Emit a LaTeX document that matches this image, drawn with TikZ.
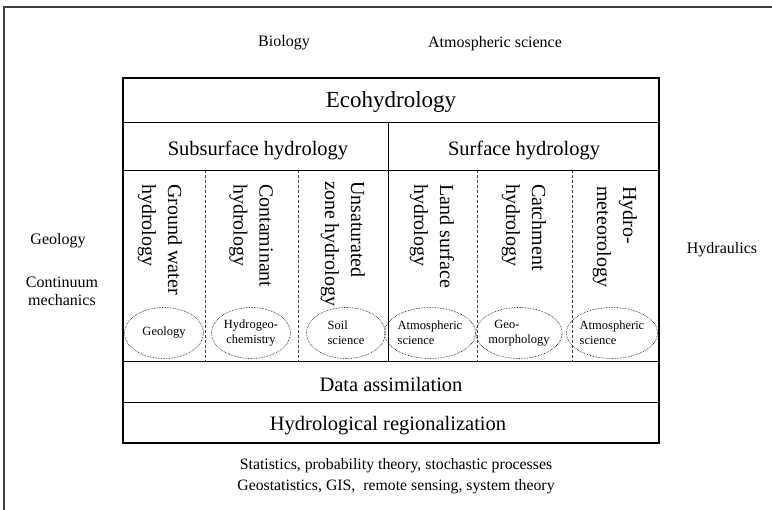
\documentclass[tikz,border=0pt]{standalone}
\usepackage{fontspec}
\setmainfont{Liberation Serif}
\usetikzlibrary{shapes.geometric}

\begin{document}
\begin{tikzpicture}[x=1pt, y=-1pt,
    frame/.style={line width=1.6pt, black!75},
    rule/.style={line width=0.9pt},
    split/.style={line width=0.6pt, black!75, dash pattern=on 3pt off 2pt},
    rowtext/.style={font=\fontsize{20.5}{24}\selectfont},
    sidetext/.style={font=\fontsize{16}{19}\selectfont, align=center},
    coltext/.style={font=\fontsize{20}{26}\selectfont, rotate=-90, anchor=west, align=left, inner sep=0pt},
    blob/.style={ellipse, draw, densely dotted, line width=0.6pt, minimum width=79pt, minimum height=51pt,
                 inner sep=0pt, font=\fontsize{12.5}{15}\selectfont, align=left}]

    \useasboundingbox (0,0) rectangle (772,510);

    % Outer frame, only top and left edge shown
    \draw[frame] (4,510) -- (4,7) -- (772,7);

    % Main table
    \draw[line width=1.2pt] (123,78) rectangle (659,443);
    \draw[rule] (123,122) -- (659,122);
    \draw[rule] (123,170) -- (659,170);
    \draw[rule] (388,122) -- (388,361);
    \draw[rule] (123,361) -- (659,361);
    \draw[rule] (123,402) -- (659,402);

    % Dashed column borders
    \draw[split] (205,170) -- (205,361);
    \draw[split] (298,170) -- (298,361);
    \draw[split] (477,170) -- (477,361);
    \draw[split] (572,170) -- (572,361);

    % Row labels
    \node[rowtext, font=\fontsize{23}{27}\selectfont] (eco) at (391,102) {Ecohydrology};
    \node[rowtext] (subsurf) at (258,150) {Subsurface hydrology};
    \node[rowtext] (surf) at (524,150) {Surface hydrology};
    \node[rowtext] (assim) at (391,384) {Data assimilation};
    \node[rowtext] (region) at (388,426) {Hydrological regionalization};

    % Column labels, written top to bottom
    \node[coltext] (gw) at (160,184) {Ground water\\hydrology};
    \node[coltext] (cont) at (251,184) {Contaminant\\hydrology};
    \node[coltext] (unsat) at (343,181) {Unsaturated\\zone hydrology};
    \node[coltext] (land) at (432,184) {Land surface\\hydrology};
    \node[coltext] (catch) at (524,184) {Catchment\\hydrology};
    \node[coltext] (hymet) at (615,186) {Hydro-\\meteorology};

    % Neighbouring disciplines in each column
    \node[blob] (geol) at (164,333) {Geology};
    \node[blob, align=center] (hgeo) at (251,333) {Hydrogeo-\\chemistry};
    \node[blob] (soil) at (346,333) {Soil\\science};
    \node[blob] (atm1) at (430,333) {Atmospheric\\science};
    \node[blob, minimum width=74pt] (geom) at (519,333) {\hspace*{6pt}Geo-\\morphology};
    \node[blob] (atm2) at (612,333) {Atmospheric\\science};

    % Surrounding sciences
    \node[sidetext] (bio) at (284,43) {Biology};
    \node[sidetext] (atmsci) at (495,44) {Atmospheric science};
    \node[sidetext] (geo) at (58,241) {Geology};
    \node[sidetext, font=\fontsize{16}{18}\selectfont] (cont) at (62,291) {Continuum\\mechanics};
    \node[sidetext] (hydr) at (722,250) {Hydraulics};
    \node[sidetext, font=\fontsize{15.8}{21}\selectfont] (stats) at (396,476)
        {Statistics, probability theory, stochastic processes\\Geostatistics, GIS,\ \ remote sensing, system theory};
\end{tikzpicture}
\end{document}
